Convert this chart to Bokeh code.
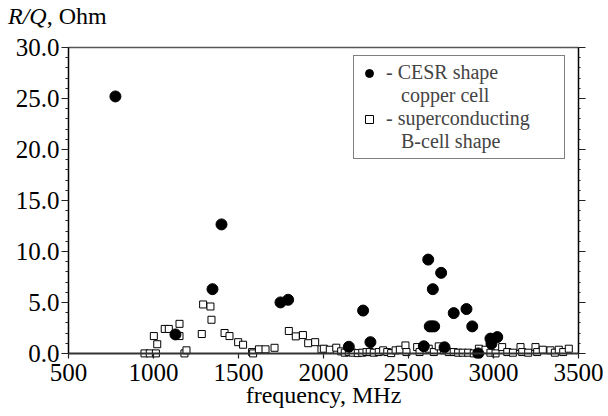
from bokeh.plotting import figure
from bokeh.layouts import column
from bokeh.models import (Range1d, LinearAxis, SingleIntervalTicker, FixedTicker,
                          NumeralTickFormatter, Span, Legend, LegendItem, Div, ColumnDataSource)
from bokeh.core.properties import value
from bokeh.embed import file_html
from bokeh.resources import INLINE

# CESR shape copper cell
cesr_freq = [776, 1129, 1347, 1400, 1747, 1792, 2149, 2233, 2276, 2590, 2616,
             2625, 2638, 2651, 2643, 2692, 2712, 2766, 2841, 2875, 2910, 2982,
             2988, 3022]
cesr_rq = [25.2, 1.86, 6.3, 12.65, 5.0, 5.26, 0.65, 4.2, 1.1, 0.7, 9.2,
           2.65, 2.65, 2.65, 6.3, 7.9, 0.6, 3.95, 4.35, 2.65, 0.0, 1.45,
           0.95, 1.6]

# superconducting B-cell shape
sc_freq = [947, 978, 1014, 1022, 1002, 1066, 1090, 1153, 1153, 1182, 1194,
           1284, 1292, 1335, 1341, 1418, 1447, 1498, 1527, 1580, 1586, 1620,
           1659, 1712, 1796, 1837, 1879, 1910, 1951, 1988,
           2002, 2037, 2075, 2104, 2125, 2149, 2172, 2202, 2228, 2253, 2272,
           2296, 2325, 2351, 2375, 2398, 2424, 2449, 2482, 2488, 2551, 2565,
           2619, 2649, 2678, 2708, 2737, 2766,
           2792, 2819, 2851, 2884, 2914, 2953, 2982, 3012, 3051, 3081, 3114,
           3159, 3169, 3204, 3247, 3257, 3290, 3335, 3361, 3384, 3410, 3443]
sc_rq = [0.0, 0.0, 0.0, 0.9, 1.7, 2.4, 2.4, 2.9, 1.7, 0.0, 0.3,
         1.9, 4.8, 4.6, 3.3, 2.0, 1.7, 1.1, 0.85, 0.13, 0.0, 0.4,
         0.4, 0.55, 2.2, 1.67, 1.8, 1.0, 1.1, 0.4,
         0.46, 0.36, 0.56, 0.2, 0.07, 0.13, 0.07, 0.03, 0.07, 0.13, 0.13,
         0.07, 0.13, 0.3, 0.13, 0.03, 0.3, 0.36, 0.78, 0.13, 0.62, 0.13,
         0.46, 0.13, 0.69, 0.3, 0.13, 0.13,
         0.07, 0.07, 0.07, 0.0, 0.46, 0.36, 0.07, 0.0, 0.62, 0.13, 0.07,
         0.62, 0.13, 0.07, 0.62, 0.13, 0.36, 0.3, 0.07, 0.36, 0.13, 0.46]

x_ticks_interval = 500
y_ticks_interval = 5
legend_lines = ["- CESR shape", "\u00a0\u00a0\u00a0copper cell",
                "- superconducting", "\u00a0\u00a0\u00a0B-cell shape"]
x_title = "frequency, MHz"
y_title_html = "<i>R/Q</i>, Ohm"

FONT = "Liberation Serif"
AX = "#222222"

title_div = Div(text=y_title_html, width=608, height=30, margin=(0, 0, 0, 0),
                styles={"font-family": FONT, "font-size": "24px", "line-height": "30px",
                        "padding-left": "8px", "padding-top": "1px", "color": "black"})

p = figure(width=608, height=386, output_backend="svg", toolbar_location=None,
           x_range=Range1d(500, 3500), y_range=Range1d(-0.5, 30),
           x_axis_type=None, y_axis_type=None,
           min_border_left=68, min_border_right=30, min_border_top=17,
           min_border_bottom=58, margin=(0, 0, 0, 0))
p.outline_line_color = None
p.xgrid.visible = False
p.ygrid.visible = False

# left axis
yl = LinearAxis(ticker=SingleIntervalTicker(interval=y_ticks_interval, num_minor_ticks=5),
                formatter=NumeralTickFormatter(format="0.0"), bounds=(0, 30))
yl.axis_line_color = "black"
yl.axis_line_width = 1.5
yl.major_tick_out = 7
yl.major_tick_in = 0
yl.minor_tick_out = 3
yl.minor_tick_in = 0
yl.major_tick_line_color = AX
yl.minor_tick_line_color = AX
yl.major_label_standoff = 2
yl.major_label_text_font = FONT
yl.major_label_text_font_size = "25px"
yl.major_label_text_color = "black"
p.add_layout(yl, "left")

# right axis (ticks only)
yr = LinearAxis(ticker=SingleIntervalTicker(interval=y_ticks_interval, num_minor_ticks=5),
                bounds=(0, 30))
yr.axis_line_color = "black"
yr.axis_line_width = 1.5
yr.major_tick_out = 7
yr.major_tick_in = 0
yr.minor_tick_out = 2
yr.minor_tick_in = 0
yr.major_tick_line_color = AX
yr.minor_tick_line_color = AX
yr.major_label_text_font_size = "1px"
yr.major_label_text_color = None
yr.major_label_standoff = 0
p.add_layout(yr, "right")

# top line
xt = LinearAxis(ticker=FixedTicker(ticks=[]))
xt.axis_line_color = "#555555"
xt.axis_line_width = 1.5
xt.major_tick_out = 0
xt.major_tick_in = 0
xt.minor_tick_out = 0
xt.minor_tick_in = 0
xt.major_label_text_font_size = "1px"
xt.major_label_text_color = None
p.add_layout(xt, "above")

# bottom axis (ticks reach from frame bottom up to zero line)
xb = LinearAxis(ticker=SingleIntervalTicker(interval=x_ticks_interval, num_minor_ticks=2))
xb.axis_line_color = None
xb.major_tick_in = 5
xb.major_tick_out = 0
xb.minor_tick_in = 0
xb.minor_tick_out = 0
xb.major_tick_line_color = AX
xb.major_tick_line_width = 1.2
xb.major_label_standoff = 5
xb.major_label_text_font = FONT
xb.major_label_text_font_size = "25px"
xb.major_label_text_color = "black"
xb.axis_label = x_title
xb.axis_label_standoff = -2
xb.axis_label_text_font = FONT
xb.axis_label_text_font_size = "24px"
xb.axis_label_text_font_style = "normal"
xb.axis_label_text_color = "black"
p.add_layout(xb, "below")

# zero line
p.add_layout(Span(location=0, dimension="width", line_color="#333333", line_width=2))

src_sc = ColumnDataSource(dict(x=sc_freq, y=sc_rq))
src_c = ColumnDataSource(dict(x=cesr_freq, y=cesr_rq))
r_sc = p.scatter("x", "y", source=src_sc, marker="square", size=7,
                 fill_color="white", line_color="black", line_width=1)
r_c = p.scatter("x", "y", source=src_c, marker="circle", size=11,
                fill_color="black", line_color="black")
# invisible renderer used for the second (continuation) lines of legend entries
r_blank = p.scatter(x=[], y=[], marker="circle", size=1, fill_alpha=0, line_alpha=0)

legend = Legend(items=[LegendItem(label=value(legend_lines[0]), renderers=[r_c]),
                       LegendItem(label=value(legend_lines[1]), renderers=[r_blank]),
                       LegendItem(label=value(legend_lines[2]), renderers=[r_sc]),
                       LegendItem(label=value(legend_lines[3]), renderers=[r_blank])],
                location=(285, 199))
legend.label_text_font = FONT
legend.label_text_font_size = "20px"
legend.label_standoff = 7
legend.label_width = 173
legend.label_height = 20
legend.glyph_width = 20
legend.glyph_height = 20
legend.padding = 5
legend.spacing = 0
legend.margin = 0
legend.border_line_color = "black"
legend.border_line_width = 1
legend.background_fill_color = "white"
legend.background_fill_alpha = 1
p.add_layout(legend, "center")

layout = column(title_div, p, spacing=0)

open("out.html", "w").write(file_html(layout, INLINE))
